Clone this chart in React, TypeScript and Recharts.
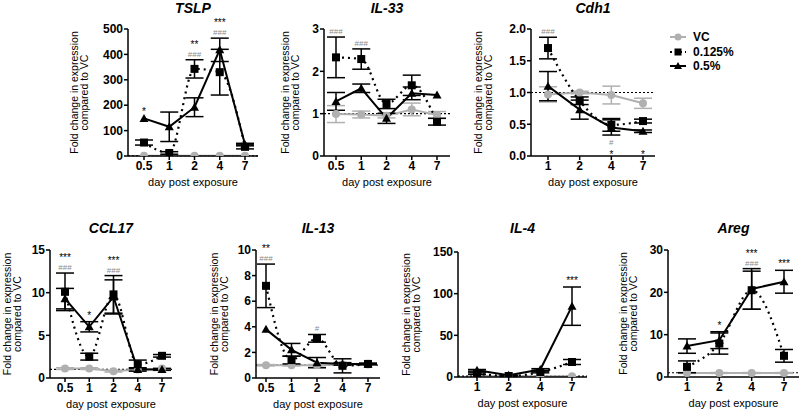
import React from "react";
import {
  ComposedChart,
  Line,
  XAxis,
  YAxis,
  ErrorBar,
  ReferenceLine,
  LabelList,
} from "recharts";

const FONT = "Arial, 'Liberation Sans', Helvetica, sans-serif";
const GREY = "#b0b0b0";
const HASH = "#8a8a8a";

// ---- data (VC, 0.125%, 0.5%) ----
const daysA = ["0.5", "1", "2", "4", "7"];
const daysB = ["1", "2", "4", "7"];

const tslpVC = [1, 1, 1, 1, 1];
const tslpVCErr = [null, null, null, null, null];
const tslpLow = [53, 12, 343, 330, 36];
const tslpLowErr = [10, 5, 36, 90, 8];
const tslpHigh = [148, 115, 192, 418, 45];
const tslpHighErr = [null, 58, 37, 46, 5];
const tslpStars = ["*", "", "**", "***", ""];
const tslpHash = ["", "", "###", "###", ""];
const tslpPlace = ["a", "a", "a", "a", "a"];

const il33VC = [0.99, 0.98, 0.95, 1.1, 0.97];
const il33VCErr = [0.2, 0.08, 0.05, 0.15, 0.08];
const il33Low = [2.33, 2.29, 1.23, 1.67, 0.81];
const il33LowErr = [0.48, 0.24, 0.11, 0.24, 0.08];
const il33High = [1.29, 1.6, 0.89, 1.48, 1.44];
const il33HighErr = [0.21, 0.1, 0.12, 0.15, null];
const il33Stars = ["", "", "", "", ""];
const il33Hash = ["###", "###", "", "", ""];
const il33Place = ["a", "a", "a", "a", "a"];

const cdh1VC = [0.97, 1.0, 0.96, 0.83];
const cdh1VCErr = [0.12, 0.02, 0.14, 0.08];
const cdh1Low = [1.7, 0.87, 0.49, 0.55];
const cdh1LowErr = [0.17, 0.06, 0.1, 0.03];
const cdh1High = [1.1, 0.73, 0.45, 0.39];
const cdh1HighErr = [0.23, 0.15, 0.12, 0.02];
const cdh1Stars = ["", "", "*", "*"];
const cdh1Hash = ["###", "", "#", ""];
const cdh1Place = ["a", "a", "b", "b"];

const ccl17VC = [1.1, 1.1, 0.8, 1.0, 1.1];
const ccl17VCErr = [0.1, 0.1, 0.1, 0.1, 0.1];
const ccl17Low = [10.1, 2.5, 9.8, 1.6, 2.6];
const ccl17LowErr = [2.2, 0.4, 2.2, 0.5, 0.15];
const ccl17High = [9.3, 6.0, 9.5, 1.0, 1.0];
const ccl17HighErr = [1.2, 0.6, 2.0, 0.2, 0.1];
const ccl17Stars = ["***", "*", "***", "", ""];
const ccl17Hash = ["###", "", "###", "", ""];
const ccl17Place = ["a", "a", "a", "a", "a"];

const il13VC = [1.0, 1.0, 1.0, 1.05, 1.05];
const il13VCErr = [0.05, 0.05, 0.05, 0.05, 0.05];
const il13Low = [7.2, 1.4, 3.1, 0.95, 1.1];
const il13LowErr = [1.7, 0.3, 0.3, 0.55, 0.05];
const il13High = [3.8, 2.2, 1.2, 1.1, 1.1];
const il13HighErr = [null, 0.5, 0.4, 0.1, 0.05];
const il13Stars = ["**", "", "", "", ""];
const il13Hash = ["###", "", "#", "", ""];
const il13Place = ["a", "a", "a", "a", "a"];

const il4VC = [1, 1, 1, 1];
const il4VCErr = [null, null, null, null];
const il4Low = [4, 1.2, 6, 18];
const il4LowErr = [1, 0.5, 1, 3];
const il4High = [8, 2, 9, 85];
const il4HighErr = [1, 0.5, 1, 23];
const il4Stars = ["", "", "", "***"];
const il4Hash = ["", "", "", ""];
const il4Place = ["a", "a", "a", "a"];

const aregVC = [0.95, 0.95, 0.95, 0.95];
const aregVCErr = [0.1, 0.1, 0.1, 0.1];
const aregLow = [2.4, 7.9, 20.5, 5.0];
const aregLowErr = [1.4, 2.5, 4.5, 1.5];
const aregHigh = [7.3, 8.7, 20.8, 22.5];
const aregHighErr = [1.7, 2.0, 4.8, 2.7];
const aregStars = ["", "*", "***", "***"];
const aregHash = ["", "", "###", ""];
const aregPlace = ["a", "a", "a", "a"];

const legendItems = ["VC", "0.125%", "0.5%"];
const yTitleLines = ["Fold change in expression", "compared to VC"];
const xTitle = "day post exposure";

type Num = number | null;
type Panel = {
  title: string;
  days: string[];
  vc: number[]; vcErr: Num[];
  low: number[]; lowErr: Num[];
  high: number[]; highErr: Num[];
  stars: string[]; hash: string[]; place: string[];
  ticks: number[];
  fmt?: (v: number) => string;
  axisX: number; right: number; yTop: number; yBot: number;
  padL: number; padR: number; yTitleX: number;
};

const panels: Panel[] = [
  {
    title: "TSLP", days: daysA, vc: tslpVC, vcErr: tslpVCErr, low: tslpLow, lowErr: tslpLowErr,
    high: tslpHigh, highErr: tslpHighErr, stars: tslpStars, hash: tslpHash, place: tslpPlace,
    ticks: [0, 100, 200, 300, 400, 500],
    axisX: 128, right: 258, yTop: 29, yBot: 156, padL: 16, padR: 13, yTitleX: 79,
  },
  {
    title: "IL-33", days: daysA, vc: il33VC, vcErr: il33VCErr, low: il33Low, lowErr: il33LowErr,
    high: il33High, highErr: il33HighErr, stars: il33Stars, hash: il33Hash, place: il33Place,
    ticks: [0, 1, 2, 3],
    axisX: 324, right: 450, yTop: 29, yBot: 156, padL: 12, padR: 13, yTitleX: 290,
  },
  {
    title: "Cdh1", days: daysB, vc: cdh1VC, vcErr: cdh1VCErr, low: cdh1Low, lowErr: cdh1LowErr,
    high: cdh1High, highErr: cdh1HighErr, stars: cdh1Stars, hash: cdh1Hash, place: cdh1Place,
    ticks: [0, 0.5, 1, 1.5, 2], fmt: (v) => v.toFixed(1),
    axisX: 531, right: 655, yTop: 29, yBot: 156, padL: 17, padR: 12, yTitleX: 483,
  },
  {
    title: "CCL17", days: daysA, vc: ccl17VC, vcErr: ccl17VCErr, low: ccl17Low, lowErr: ccl17LowErr,
    high: ccl17High, highErr: ccl17HighErr, stars: ccl17Stars, hash: ccl17Hash, place: ccl17Place,
    ticks: [0, 5, 10, 15],
    axisX: 50, right: 172, yTop: 250, yBot: 378, padL: 15, padR: 10, yTitleX: 12,
  },
  {
    title: "IL-13", days: daysA, vc: il13VC, vcErr: il13VCErr, low: il13Low, lowErr: il13LowErr,
    high: il13High, highErr: il13HighErr, stars: il13Stars, hash: il13Hash, place: il13Place,
    ticks: [0, 2, 4, 6, 8, 10],
    axisX: 256, right: 380, yTop: 250, yBot: 378, padL: 10, padR: 12, yTitleX: 219,
  },
  {
    title: "IL-4", days: daysB, vc: il4VC, vcErr: il4VCErr, low: il4Low, lowErr: il4LowErr,
    high: il4High, highErr: il4HighErr, stars: il4Stars, hash: il4Hash, place: il4Place,
    ticks: [0, 50, 100, 150],
    axisX: 458, right: 587, yTop: 252, yBot: 377, padL: 19, padR: 15, yTitleX: 411,
  },
  {
    title: "Areg", days: daysB, vc: aregVC, vcErr: aregVCErr, low: aregLow, lowErr: aregLowErr,
    high: aregHigh, highErr: aregHighErr, stars: aregStars, hash: aregHash, place: aregPlace,
    ticks: [0, 10, 20, 30],
    axisX: 668, right: 799, yTop: 250, yBot: 377, padL: 19, padR: 15, yTitleX: 628,
  },
];

const Circle = (p: any) =>
  p.cx == null ? null : <circle key={p.key} cx={p.cx} cy={p.cy} r={4} fill={GREY} />;
const Square = (p: any) =>
  p.cx == null ? null : <rect key={p.key} x={p.cx - 4} y={p.cy - 4} width={8} height={8} fill="#000" />;
const Tri = (p: any) =>
  p.cx == null ? null : (
    <path key={p.key} d={`M${p.cx},${p.cy - 4.5}L${p.cx + 4.5},${p.cy + 3.5}L${p.cx - 4.5},${p.cy + 3.5}Z`} fill="#000" />
  );

const YW = 40;
const MT = 30;
const MR = 4;
const XH = 40;

// above: hash just over the highest error bar, stars above that
const AnnotAbove = (props: any) => {
  const { x, y, index, value } = props;
  if (x == null || value == null) return null;
  const [star, hash] = value as [string, string];
  if (!star && !hash) return null;
  return (
    <g key={index}>
      {hash && (
        <text x={x} y={y - 3} textAnchor="middle" fontSize={8} fill={HASH} fontFamily={FONT}>{hash}</text>
      )}
      {star && (
        <text x={x} y={hash ? y - 12 : y - 3} textAnchor="middle" fontSize={10} fill="#000" fontFamily={FONT}>{star}</text>
      )}
    </g>
  );
};

// below: stars sit on the x axis, hash above them
const AnnotBelow = (props: any) => {
  const { x, y, index, value } = props;
  if (x == null || value == null) return null;
  const [star, hash] = value as [string, string];
  if (!star && !hash) return null;
  return (
    <g key={index}>
      {hash && (
        <text x={x} y={y - 11} textAnchor="middle" fontSize={8} fill={HASH} fontFamily={FONT}>{hash}</text>
      )}
      {star && (
        <text x={x} y={y + 2} textAnchor="middle" fontSize={10} fill="#000" fontFamily={FONT}>{star}</text>
      )}
    </g>
  );
};

function PanelChart({ p }: { p: Panel }) {
  const max = p.ticks[p.ticks.length - 1];
  const data = p.days.map((d, i) => {
    const up = (v: number, e: Num) => v + (e ?? 0);
    const ann = [p.stars[i], p.hash[i]];
    return {
      day: d,
      vc: p.vc[i], vcErr: p.vcErr[i],
      low: p.low[i], lowErr: p.lowErr[i],
      high: p.high[i], highErr: p.highErr[i],
      top: Math.max(up(p.vc[i], p.vcErr[i]), up(p.low[i], p.lowErr[i]), up(p.high[i], p.highErr[i])),
      floor: 0,
      annA: p.place[i] === "a" ? ann : ["", ""],
      annB: p.place[i] === "b" ? ann : ["", ""],
    };
  });
  const w = p.right - p.axisX + YW + MR;
  const h = p.yBot - p.yTop + MT + XH;
  const tick = { fontSize: 12, fontWeight: 700, fill: "#000", fontFamily: FONT };
  return (
    <div style={{ position: "absolute", left: p.axisX - YW, top: p.yTop - MT, width: w, height: h }}>
      <ComposedChart width={w} height={h} data={data} margin={{ top: MT, right: MR, left: 0, bottom: 0 }}>
        <XAxis
          dataKey="day"
          type="category"
          scale="point"
          padding={{ left: p.padL, right: p.padR }}
          tick={tick}
          tickSize={4}
          tickMargin={1}
          axisLine={{ stroke: "#000", strokeWidth: 1.5 }}
          tickLine={{ stroke: "#000", strokeWidth: 1.5 }}
          height={XH}
          interval={0}
          label={{ value: xTitle, position: "insideBottom", offset: 10, fontSize: 11, fill: "#000", fontFamily: FONT }}
        />
        <YAxis
          type="number"
          domain={[0, max]}
          ticks={p.ticks}
          tickFormatter={p.fmt}
          allowDataOverflow
          width={YW}
          tick={tick}
          tickSize={4}
          tickMargin={1}
          axisLine={{ stroke: "#000", strokeWidth: 1.5 }}
          tickLine={{ stroke: "#000", strokeWidth: 1.5 }}
        />
        <ReferenceLine y={1} stroke="#000" strokeDasharray="2 2" strokeWidth={1.2} />
        <Line dataKey="vc" stroke={GREY} strokeWidth={2} dot={Circle} activeDot={false} isAnimationActive={false}>
          <ErrorBar dataKey="vcErr" width={9} stroke={GREY} strokeWidth={1.5} />
        </Line>
        <Line
          dataKey="low"
          type="monotone"
          stroke="#000"
          strokeWidth={2.2}
          strokeDasharray="2 4"
          dot={Square}
          activeDot={false}
          isAnimationActive={false}
        >
          <ErrorBar dataKey="lowErr" width={9} stroke="#000" strokeWidth={1.5} />
        </Line>
        <Line dataKey="high" stroke="#000" strokeWidth={2} dot={Tri} activeDot={false} isAnimationActive={false}>
          <ErrorBar dataKey="highErr" width={9} stroke="#000" strokeWidth={1.5} />
        </Line>
        <Line dataKey="top" stroke="none" dot={false} activeDot={false} isAnimationActive={false}>
          <LabelList dataKey="annA" content={AnnotAbove} />
        </Line>
        <Line dataKey="floor" stroke="none" dot={false} activeDot={false} isAnimationActive={false}>
          <LabelList dataKey="annB" content={AnnotBelow} />
        </Line>
      </ComposedChart>
    </div>
  );
}

function Overlay() {
  const legendRows = [37, 52, 66];
  return (
    <svg width={800} height={410} style={{ position: "absolute", left: 0, top: 0, pointerEvents: "none" }}>
      {panels.map((p) => {
        const cx = (p.axisX + p.right) / 2;
        const ty = p.yTop < 100 ? 13 : 233;
        const cy = (p.yTop + p.yBot) / 2;
        return (
          <g key={p.title}>
            <text x={cx} y={ty} textAnchor="middle" fontSize={14} fontWeight={700} fontStyle="italic" fontFamily={FONT}>
              {p.title}
            </text>
            <text
              transform={`translate(${p.yTitleX},${cy}) rotate(-90)`}
              textAnchor="middle"
              fontSize={10.5}
              fontFamily={FONT}
              fill="#000"
            >
              <tspan x={0} y={-1}>{yTitleLines[0]}</tspan>
              <tspan x={0} y={9}>{yTitleLines[1]}</tspan>
            </text>
          </g>
        );
      })}
      {legendItems.map((name, i) => {
        const y = legendRows[i];
        return (
          <g key={name}>
            {i === 0 && (
              <>
                <line x1={670} x2={686} y1={y} y2={y} stroke={GREY} strokeWidth={2} />
                <circle cx={678} cy={y} r={3.5} fill={GREY} />
              </>
            )}
            {i === 1 && (
              <>
                <line x1={670} x2={686} y1={y} y2={y} stroke="#000" strokeWidth={2} strokeDasharray="2 3" />
                <rect x={674.5} y={y - 3.5} width={7} height={7} fill="#000" />
              </>
            )}
            {i === 2 && (
              <>
                <line x1={670} x2={686} y1={y} y2={y} stroke="#000" strokeWidth={2} />
                <path d={`M678,${y - 4}L682,${y + 3}L674,${y + 3}Z`} fill="#000" />
              </>
            )}
            <text x={693} y={y + 4} fontSize={12} fontWeight={700} fontFamily={FONT} fill="#000">
              {name}
            </text>
          </g>
        );
      })}
    </svg>
  );
}

export default function App() {
  return (
    <div style={{ position: "absolute", left: 0, top: 0, width: 800, height: 410, background: "#fff", overflow: "hidden" }}>
      {panels.map((p) => (
        <PanelChart key={p.title} p={p} />
      ))}
      <Overlay />
    </div>
  );
}
